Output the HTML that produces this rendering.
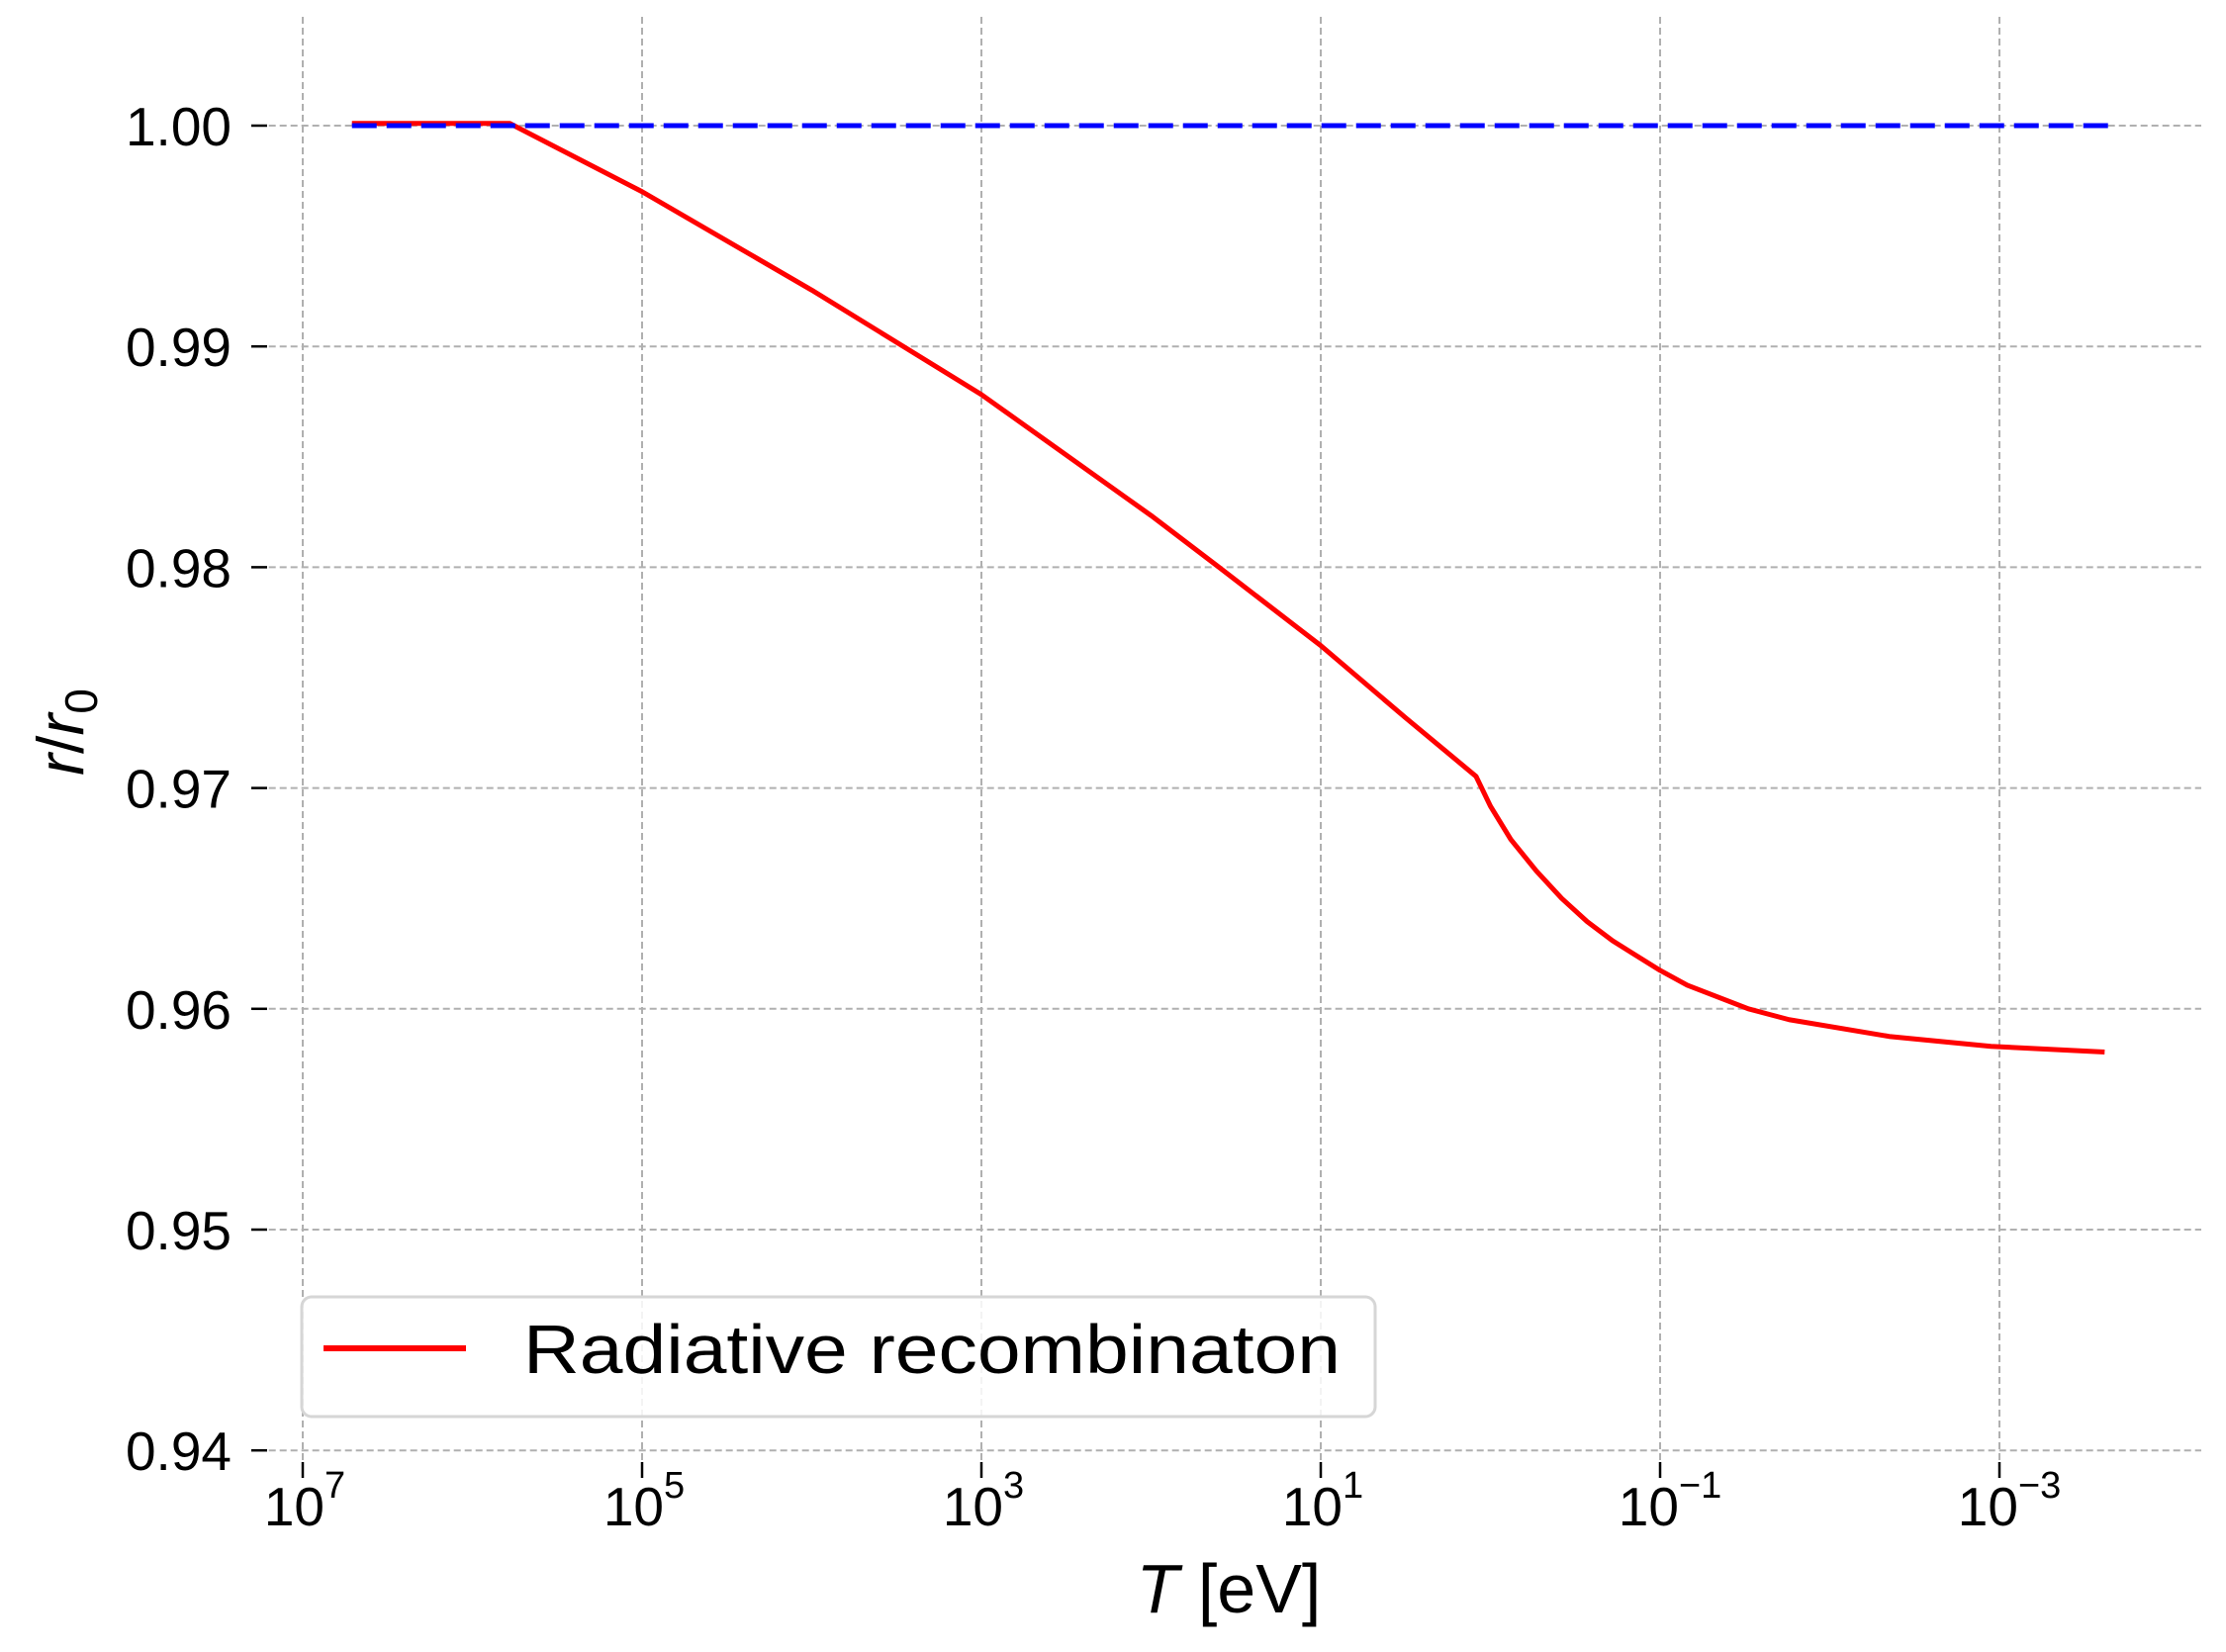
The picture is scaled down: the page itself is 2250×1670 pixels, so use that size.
<!DOCTYPE html>
<html><head><meta charset="utf-8"><style>
html,body{margin:0;padding:0;background:#fff;}
svg{display:block;font-family:"Liberation Sans","DejaVu Sans",sans-serif;}
</style></head><body>
<svg id="chart" width="2250" height="1670" viewBox="0 0 2250 1670" xmlns="http://www.w3.org/2000/svg">
<g id="grid"></g>
<g id="axes"></g>
<g id="series"></g>
<g>
  <rect x="305" y="1311" width="1085" height="121" rx="10" fill="#fff" fill-opacity="0.85" stroke="#d6d6d6" stroke-width="3"/>
  <line x1="327" y1="1363" x2="471" y2="1363" stroke="#ff0000" stroke-width="6"/>
  <text x="529" y="1388" font-size="70" textLength="826" lengthAdjust="spacingAndGlyphs" fill="#000">Radiative recombinaton</text>
</g>
<text x="1242" y="1630" font-size="70" text-anchor="middle" fill="#000"><tspan font-style="italic">T</tspan> [eV]</text>
<text transform="translate(84,740) rotate(-90)" font-size="66" text-anchor="middle" fill="#000"><tspan font-style="italic">r</tspan>/<tspan font-style="italic">r</tspan><tspan font-size="46" dy="14">0</tspan></text>
</svg>
<script>
const xTickExp = [7, 5, 3, 1, -1, -3];
const xTickLabels = ["7", "5", "3", "1", "\u22121", "\u22123"];
const yTicks = [1.00, 0.99, 0.98, 0.97, 0.96, 0.95, 0.94];
const yTickLabels = ["1.00", "0.99", "0.98", "0.97", "0.96", "0.95", "0.94"];
const radLogT = [6.71, 5.78, 5, 4, 3.46, 3, 2, 1.6, 1, 0.5, 0.085, 0.0, -0.12, -0.27, -0.42, -0.57, -0.72, -1, -1.16, -1.52, -1.76, -2.35, -2.95, -3.62];
const radR = [1.0001, 1.0001, 0.99701, 0.99255, 0.99, 0.98782, 0.98234, 0.98, 0.97645, 0.97318, 0.97053, 0.96918, 0.96767, 0.96625, 0.96500, 0.96395, 0.96308, 0.96174, 0.96107, 0.96, 0.95951, 0.95875, 0.95830, 0.95804];
const refLogT = [6.71, -3.68];
const refR = [1.0, 1.0];

const NS = "http://www.w3.org/2000/svg";
function xs(logT){ return 306 + (7 - logT) * 171.5; }
function ys(r){ return 127 + (1 - r) * 22320; }
const plotTop = 17, plotBottom = 1478, plotLeft = 306 - 0.2*171.5, plotRight = 2225;
function mk(tag, parent){ const e = document.createElementNS(NS, tag); parent.appendChild(e); return e; }
const grid = document.getElementById('grid');
const axes = document.getElementById('axes');
const series = document.getElementById('series');

xTickExp.forEach((e, i) => {
  const x = xs(e);
  const g = mk('line', grid);
  
  
  g.setAttribute('x1', x); g.setAttribute('x2', x);
  g.setAttribute('y1', plotTop); g.setAttribute('y2', plotBottom);
  g.setAttribute('stroke', '#b0b0b0'); g.setAttribute('stroke-width', '2'); g.setAttribute('stroke-dasharray', '7,4');
  const t = mk('line', axes);
  
  
  t.setAttribute('x1', x); t.setAttribute('x2', x);
  t.setAttribute('y1', plotBottom); t.setAttribute('y2', 1494);
  t.setAttribute('stroke', '#000'); t.setAttribute('stroke-width', '2.5');
  const lab = mk('text', axes);
  
  
  lab.setAttribute('x', x + (xTickLabels[i].length > 1 ? 10 : 2)); lab.setAttribute('y', 1542);
  lab.setAttribute('font-size', '55'); lab.setAttribute('text-anchor', 'middle');
  const b = mk('tspan', lab); b.textContent = '10';
  const s = mk('tspan', lab); s.textContent = xTickLabels[i];
  s.setAttribute('font-size', '38'); s.setAttribute('dy', '-28');
});

yTicks.forEach((v, i) => {
  const y = ys(v);
  const g = mk('line', grid);
  
  
  g.setAttribute('x1', plotLeft); g.setAttribute('x2', plotRight);
  g.setAttribute('y1', y); g.setAttribute('y2', y);
  g.setAttribute('stroke', '#b0b0b0'); g.setAttribute('stroke-width', '2'); g.setAttribute('stroke-dasharray', '7,4');
  const t = mk('line', axes);
  
  
  t.setAttribute('x1', 254); t.setAttribute('x2', 270);
  t.setAttribute('y1', y); t.setAttribute('y2', y);
  t.setAttribute('stroke', '#000'); t.setAttribute('stroke-width', '2.5');
  const lab = mk('text', axes);
  
  
  lab.setAttribute('x', 234); lab.setAttribute('y', y + 20);
  lab.setAttribute('font-size', '55'); lab.setAttribute('text-anchor', 'end');
  lab.textContent = yTickLabels[i];
});

const ref = mk('polyline', series);


ref.setAttribute('points', refLogT.map((t, i) => xs(t) + ',' + ys(refR[i])).join(' '));
ref.setAttribute('fill', 'none'); ref.setAttribute('stroke', '#0000ff');
ref.setAttribute('stroke-width', '5'); ref.setAttribute('stroke-dasharray', '25,10');

const rad = mk('polyline', series);


rad.setAttribute('points', radLogT.map((t, i) => xs(t) + ',' + ys(radR[i])).join(' '));
rad.setAttribute('fill', 'none'); rad.setAttribute('stroke', '#ff0000');
rad.setAttribute('stroke-width', '5'); rad.setAttribute('stroke-linejoin', 'round');
series.appendChild(ref);
</script>
</body></html>
